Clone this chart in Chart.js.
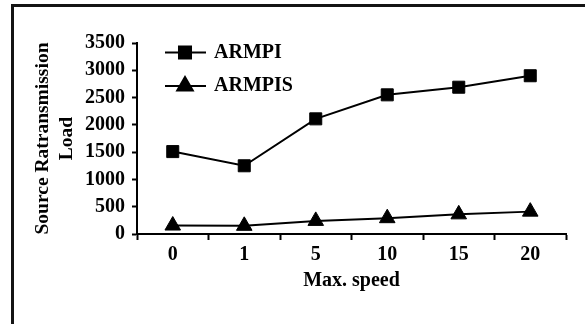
<!DOCTYPE html>
<html>
<head>
<meta charset="utf-8">
<script src="https://cdn.jsdelivr.net/npm/chart.js@4"></script>
<style>
  body { margin: 0; background: #fff; }
  #wrap { position: relative; width: 585px; height: 324px; }
  #frame {
    position: absolute; left: 11px; top: 4px; right: 0; bottom: 0;
    border-top: 3px solid #141414; border-left: 3px solid #141414;
    pointer-events: none;
  }
</style>
</head>
<body>
<div id="wrap">
  <canvas id="chart" width="585" height="324"></canvas>
  <div id="frame"></div>
</div>
<script>
// Chart data
const speeds = ['0', '1', '5', '10', '15', '20'];
const armpi = [1510, 1250, 2110, 2550, 2690, 2900];
const armpis = [155, 150, 240, 290, 360, 410];
const yMin = 0;
const yMax = 3500;
const yStep = 500;

const serif = 'Liberation Serif, Times New Roman, serif';
const axisFont = { family: serif, size: 20, weight: 'bold' };

// legend drawn as line + marker, like the original figure
const lineLegend = {
    id: 'lineLegend',
    afterDraw(chart) {
        const { ctx, chartArea } = chart;
        const x0 = chartArea.left + 28;
        chart.data.datasets.forEach((ds, i) => {
            const y = chartArea.top + 9.5 + i * 33.5;
            ctx.save();
            ctx.strokeStyle = '#000';
            ctx.fillStyle = '#000';
            ctx.lineWidth = 2;
            ctx.beginPath();
            ctx.moveTo(x0, y);
            ctx.lineTo(x0 + 41, y);
            ctx.stroke();
            Chart.helpers.drawPoint(ctx, {
                pointStyle: ds.pointStyle,
                radius: ds.pointRadius,
                borderWidth: 1,
                rotation: 0
            }, x0 + 20, y);
            ctx.font = `bold 20px ${serif}`;
            ctx.textBaseline = 'middle';
            ctx.textAlign = 'left';
            ctx.fillText(ds.label, x0 + 49, y);
            ctx.restore();
        });
    }
};

new Chart(document.getElementById('chart'), {
    type: 'line',
    data: {
        labels: speeds,
        datasets: [
            {
                label: 'ARMPI',
                data: armpi,
                borderColor: '#000',
                backgroundColor: '#000',
                borderWidth: 2,
                pointStyle: 'rect',
                pointRadius: 8.5,
                pointBorderWidth: 1,
                tension: 0
            },
            {
                label: 'ARMPIS',
                data: armpis,
                borderColor: '#000',
                backgroundColor: '#000',
                borderWidth: 2,
                pointStyle: 'triangle',
                pointRadius: 9,
                pointBorderWidth: 1,
                tension: 0
            }
        ]
    },
    options: {
        responsive: false,
        animation: false,
        layout: { padding: { left: 15, top: 43, right: 19, bottom: 0 } },
        plugins: {
            legend: { display: false },
            tooltip: { enabled: false }
        },
        scales: {
            x: {
                type: 'category',
                offset: true,
                grid: {
                    offset: true,
                    drawOnChartArea: false,
                    tickLength: 6,
                    tickWidth: 2,
                    tickColor: '#000'
                },
                border: { color: '#000', width: 2 },
                ticks: { color: '#000', font: axisFont, padding: 3, maxRotation: 0 },
                title: {
                    display: true,
                    text: 'Max. speed',
                    color: '#000',
                    font: { family: serif, size: 20, weight: 'bold', lineHeight: '24px' },
                    padding: { top: 0, bottom: 31 }
                },
                afterFit(scale) { scale.height = 90; }
            },
            y: {
                min: yMin,
                max: yMax,
                grid: {
                    drawOnChartArea: false,
                    tickLength: 5,
                    tickWidth: 2,
                    tickColor: '#000'
                },
                border: { color: '#000', width: 2 },
                ticks: {
                    stepSize: yStep,
                    color: '#000',
                    font: axisFont,
                    padding: 7,
                    callback: (v) => String(v)
                },
                title: {
                    display: true,
                    text: ['Source Ratransmission', 'Load'],
                    color: '#000',
                    font: { family: serif, size: 19.5, weight: 'bold', lineHeight: '24px' },
                    padding: { top: 16, bottom: 0 }
                },
                afterFit(scale) { scale.width = 122; }
            }
        }
    },
    plugins: [lineLegend]
});
</script>
</body>
</html>
